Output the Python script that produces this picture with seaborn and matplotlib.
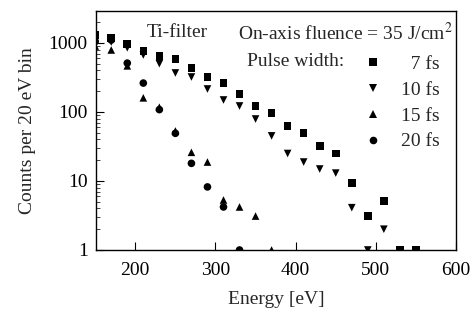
import seaborn as sns
import matplotlib.pyplot as plt
import pandas as pd
from matplotlib.ticker import LogLocator, NullFormatter

# energy bins [eV] and counts per 20 eV bin
energy_7fs = [150, 170, 190, 210, 230, 250, 270, 290, 310, 330, 350, 370, 390, 410, 430, 450, 470, 490, 510, 530, 550]
counts_7fs = [1300, 1180, 965, 765, 650, 590, 435, 320, 265, 182, 122, 97, 63, 50, 32, 25, 9.4, 3.1, 5.1, 1, 1]

energy_10fs = [150, 170, 190, 210, 230, 250, 270, 290, 310, 330, 350, 370, 390, 410, 430, 450, 470, 490, 510]
counts_10fs = [1150, 1030, 850, 670, 500, 367, 321, 215, 149, 122, 79, 45, 25, 18.8, 14.9, 13, 4.1, 1, 2.0]

energy_15fs = [150, 170, 190, 210, 230, 250, 270, 290, 310, 330, 350, 370]
counts_15fs = [900, 790, 465, 160, 117, 53, 26, 18.8, 5.3, 4.2, 3.1, 1]

energy_20fs = [150, 170, 190, 210, 230, 250, 270, 290, 310, 330]
counts_20fs = [1050, 1100, 510, 262, 108, 49, 18, 8.2, 4.2, 1]

pulse_labels = ["7 fs", "10 fs", "15 fs", "20 fs"]
legend_labels = ["  7 fs", "10 fs", "15 fs", "20 fs"]

rows = []
for lab, xs, ys in zip(pulse_labels,
                       [energy_7fs, energy_10fs, energy_15fs, energy_20fs],
                       [counts_7fs, counts_10fs, counts_15fs, counts_20fs]):
    for x, y in zip(xs, ys):
        rows.append({"energy": x, "counts": y, "pulse": lab})
df = pd.DataFrame(rows)

sns.set_style("ticks")
plt.rcParams["font.family"] = ["Liberation Serif", "DejaVu Serif"]
plt.rcParams["mathtext.fontset"] = "stix"

fs = 14

fig = plt.figure(figsize=(4.76, 3.16), dpi=100)
ax = fig.add_axes([0.2017, 0.2089, 0.7563, 0.7563])

sns.scatterplot(data=df, x="energy", y="counts", style="pulse",
                style_order=pulse_labels,
                markers={"7 fs": "s", "10 fs": "v", "15 fs": "^", "20 fs": "o"},
                color="black", edgecolor="black", linewidth=0, s=30, ax=ax)

ax.set_yscale("log")
ax.set_xlim(151, 600)
ax.set_ylim(1, 2900)
ax.set_xticks([200, 300, 400, 500, 600])
ax.set_yticks([1, 10, 100, 1000])
ax.set_yticklabels(["1", "10", "100", "1000"])
ax.yaxis.set_minor_locator(LogLocator(base=10, subs=range(2, 10)))
ax.yaxis.set_minor_formatter(NullFormatter())
ax.tick_params(axis="both", which="major", direction="in", length=6, width=0.8,
               labelsize=fs, colors="black")
ax.tick_params(axis="x", which="major", pad=9)
ax.tick_params(axis="y", which="major", pad=6)
ax.tick_params(axis="both", which="minor", direction="in", length=3, width=0.6)
for sp in ax.spines.values():
    sp.set_linewidth(1.0)
    sp.set_color("black")

ax.set_xlabel("Energy [eV]", fontsize=fs, labelpad=8)
ax.set_ylabel("Counts per 20 eV bin", fontsize=fs, labelpad=9)

ax.text(0.142, 0.908, "Ti-filter", transform=ax.transAxes, fontsize=fs,
        ha="left", va="center")
ax.text(0.99, 0.908, "On-axis fluence = 35 J/cm$^2$", transform=ax.transAxes,
        fontsize=fs, ha="right", va="center")
ax.text(0.42, 0.787, "Pulse width:", transform=ax.transAxes, fontsize=fs,
        ha="left", va="center")

handles, _ = ax.get_legend_handles_labels()
ax.legend(handles, legend_labels, frameon=False, fontsize=fs,
          loc="upper left", bbox_to_anchor=(0.726, 0.855),
          handletextpad=1.15, labelspacing=0.42, borderpad=0, handlelength=0.6)

fig.savefig("out.png", dpi=100)
